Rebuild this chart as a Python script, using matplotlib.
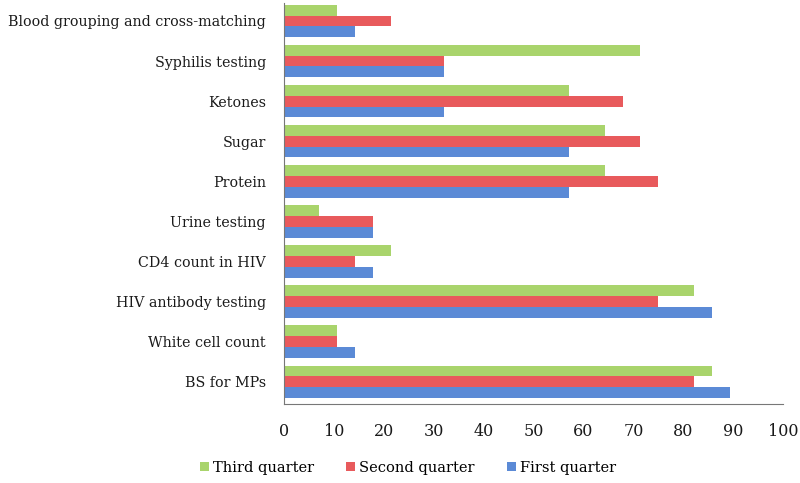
import numpy as np
import matplotlib.pyplot as plt

categories = ["BS for MPs", "White cell count", "HIV antibody testing",
              "CD4 count in HIV", "Urine testing", "Protein", "Sugar",
              "Ketones", "Syphilis testing", "Blood grouping and cross-matching"]
first_q = [89.3, 14.3, 85.7, 17.9, 17.9, 57.1, 57.1, 32.1, 32.1, 14.3]
second_q = [82.1, 10.7, 75.0, 14.3, 17.9, 75.0, 71.4, 67.9, 32.1, 21.4]
third_q = [85.7, 10.7, 82.1, 21.4, 7.1, 64.3, 64.3, 57.1, 71.4, 10.7]

plt.rcParams['font.family'] = ['DejaVu Serif']

fig = plt.figure(figsize=(8, 4.83), dpi=100)
ax = fig.add_axes([0.355, 0.164, 0.624, 0.83])

y = np.arange(len(categories))
h = 0.27
ax.barh(y - h, first_q, height=h, color='#5b8ad6', label='First quarter')
ax.barh(y, second_q, height=h, color='#e85a5c', label='Second quarter')
ax.barh(y + h, third_q, height=h, color='#a9d46c', label='Third quarter')

ax.set_xlim(0, 100)
ax.set_ylim(-0.55, len(categories) - 0.55)
ax.set_xticks(range(0, 101, 10))
ax.set_yticks(y)
ax.set_yticklabels(categories, fontsize=10.3, color='#1a1a1a')
ax.tick_params(axis='x', labelsize=11.5, length=0, pad=14, colors='#1a1a1a')
ax.tick_params(axis='y', length=0, pad=13)
for s in ['top', 'right']:
    ax.spines[s].set_visible(False)
ax.spines['left'].set_color('#777777')
ax.spines['bottom'].set_color('#777777')

handles, labels = ax.get_legend_handles_labels()
fig.legend(handles[::-1], labels[::-1], loc='lower center', ncol=3,
           bbox_to_anchor=(0.51, -0.01), frameon=False, fontsize=10.5,
           handlelength=0.6, handleheight=0.6, handletextpad=0.3, columnspacing=2.2)

fig.savefig('out.png', dpi=100)
